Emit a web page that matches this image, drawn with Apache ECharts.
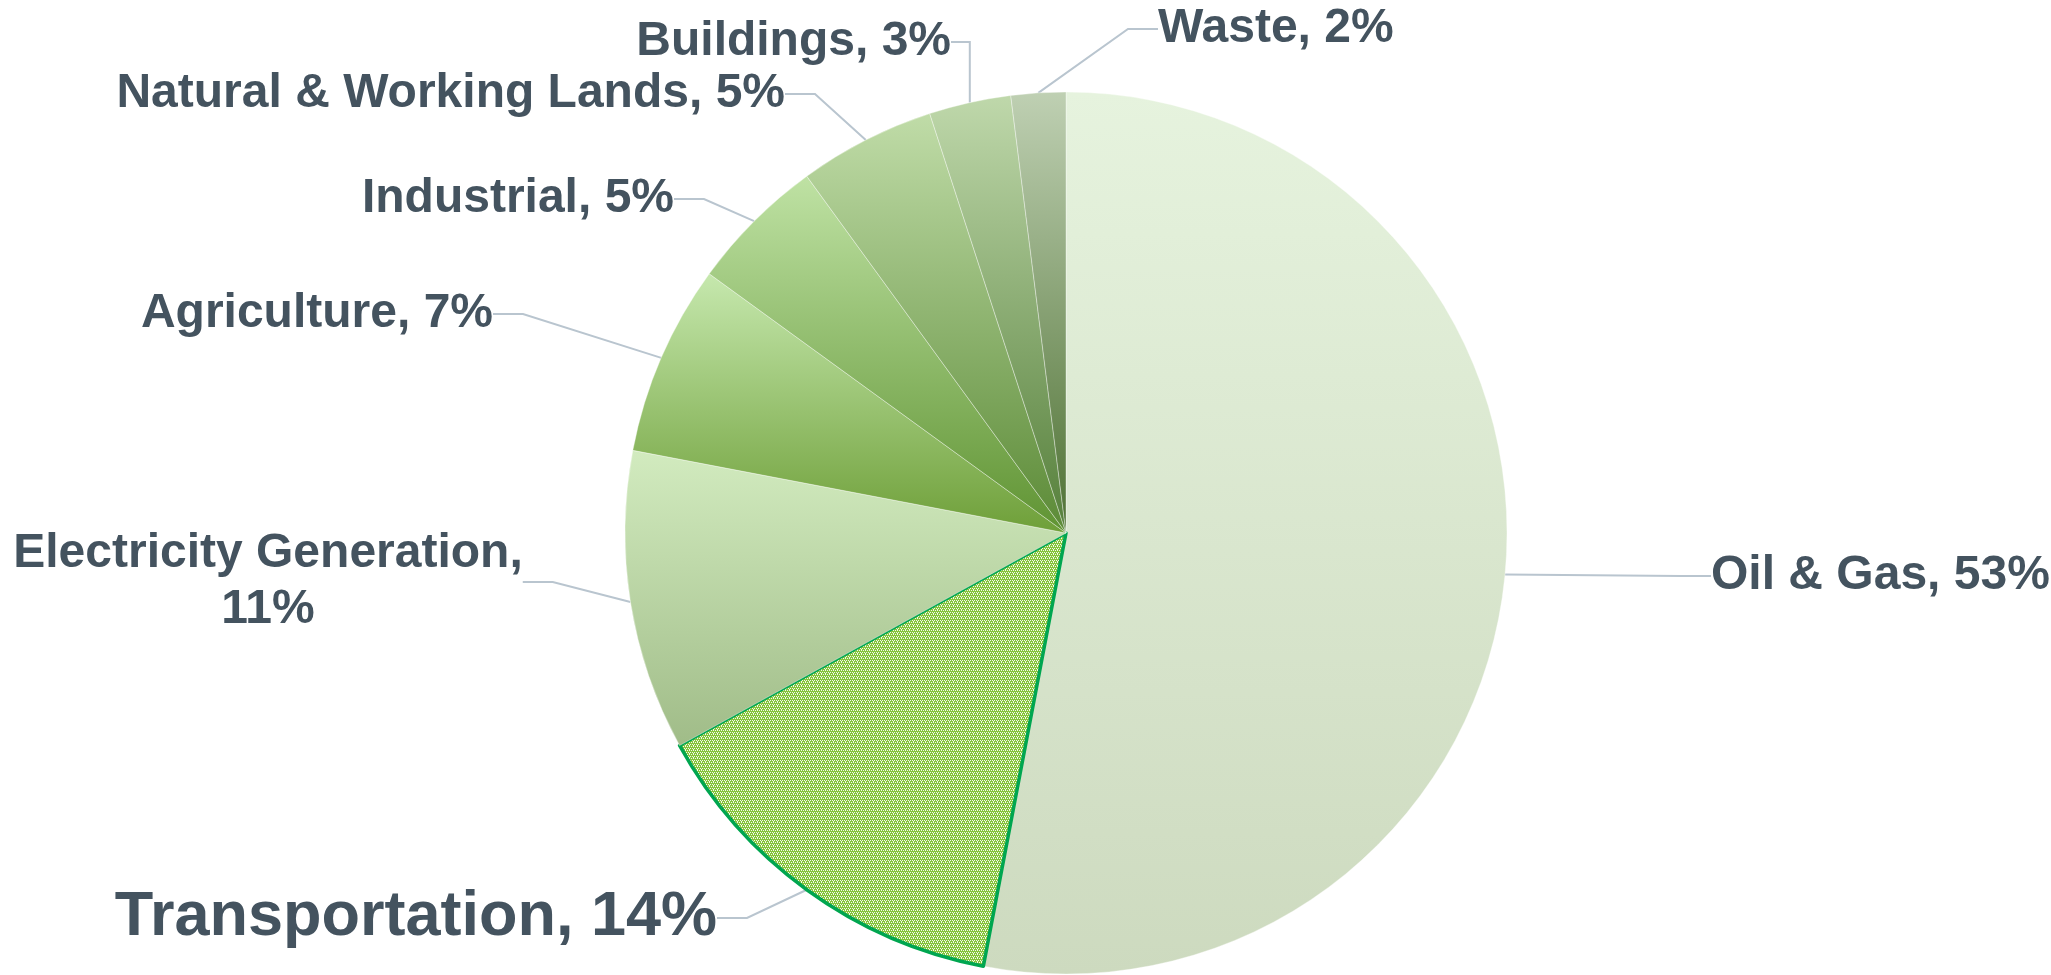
<!DOCTYPE html>
<html>
<head>
<meta charset="utf-8">
<title>Emissions by sector</title>
<script src="https://cdn.jsdelivr.net/npm/echarts@6/dist/echarts.min.js"></script>
<style>
  html, body { margin: 0; padding: 0; background: #fff; }
  #main { width: 2051px; height: 975px; }
</style>
</head>
<body>
<div id="main"></div>
<script>
// data
var sectors = ['Oil & Gas', 'Transportation', 'Electricity Generation', 'Agriculture',
  'Industrial', 'Natural & Working Lands', 'Buildings', 'Waste'];
var shares = [53, 14, 11, 7, 5, 5, 3, 2];

// gradient top / bottom colour per slice
var topColors = ['#e6f3de', '#8cc63f', '#d2ebbf', '#c6e8ae', '#bfe2a4', '#c0dca8', '#bfd8ab', '#bfd0b3'];
var botColors = ['#cddabf', '#8cc63f', '#a0bc88', '#6e9f38', '#5f9332', '#5b8a36', '#557f3a', '#4e7133'];

// where each label sits: [x, y, align]
var labelPos = [
  [1711, 576, 'left'],
  [717, 918, 'right'],
  [268, 582, 'center'],
  [493, 314, 'right'],
  [674, 199, 'right'],
  [785, 94, 'right'],
  [951, 42, 'right'],
  [1158, 29, 'left']
];

var FONT = '"Liberation Sans", Arial, sans-serif';

// dotted pattern for the highlighted slice
function makePattern() {
  var c = document.createElement('canvas');
  c.width = 4; c.height = 4;
  var ctx = c.getContext('2d');
  ctx.fillStyle = '#86c43a';
  ctx.fillRect(0, 0, 4, 4);
  ctx.fillStyle = '#f2f9ea';
  ctx.fillRect(0, 0, 1, 1);
  ctx.fillRect(2, 0, 1, 1);
  ctx.fillRect(1, 2, 1, 1);
  ctx.fillRect(3, 2, 1, 1);
  ctx.fillRect(1, 1, 1, 1);
  return c;
}

var chart = echarts.init(document.getElementById('main'), null, { renderer: 'canvas' });

var items = sectors.map(function (name, i) {
  var it = {
    name: name,
    value: shares[i],
    itemStyle: {
      color: {
        type: 'linear', x: 0, y: 0, x2: 0, y2: 1,
        colorStops: [{ offset: 0, color: topColors[i] }, { offset: 1, color: botColors[i] }]
      }
    }
  };
  if (i === 1) {
    it.itemStyle = {
      color: { image: makePattern(), repeat: 'repeat' },
      borderColor: '#00a650',
      borderWidth: 3.5
    };
    it.label = { fontSize: 63 };
  }
  return it;
});

var option = {
  animation: false,
  series: [{
    type: 'pie',
    center: [1066, 533],
    radius: 441,
    startAngle: 90,
    clockwise: true,
    avoidLabelOverlap: false,
    itemStyle: { borderColor: 'rgba(255,255,255,0.35)', borderWidth: 1 },
    label: {
      show: true,
      fontFamily: FONT,
      fontWeight: 'bold',
      fontSize: 48,
      color: '#44535f',
      lineHeight: 56,
      formatter: function (p) {
        if (p.dataIndex === 2) return p.name + ',\n' + p.value + '%';
        return p.name + ', ' + p.value + '%';
      }
    },
    labelLine: {
      show: true,
      length: 30,
      length2: 30,
      smooth: false,
      lineStyle: { color: '#b9c5cf', width: 2 }
    },
    labelLayout: function (params) {
      var p = labelPos[params.dataIndex];
      return { x: p[0], y: p[1], align: p[2], verticalAlign: 'middle' };
    },
    emphasis: { disabled: true },
    data: items
  }]
};

chart.setOption(option);
</script>
</body>
</html>
